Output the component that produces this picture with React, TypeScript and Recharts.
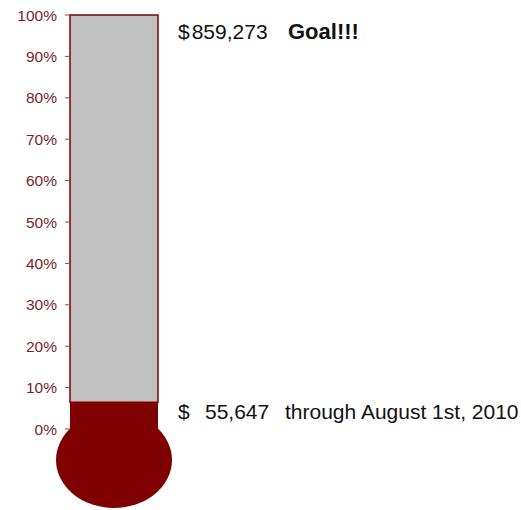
import { Bar, BarChart, LabelList, XAxis, YAxis } from 'recharts';

const categories = ['Campaign'];
const raised = [55647];
const goal = [859273];
const yTicks = [0, 10, 20, 30, 40, 50, 60, 70, 80, 90, 100];
const goalNote = 'Goal!!!';
const raisedNote = 'through August 1st, 2010';

const MAROON = '#7F0000';
const TICK_TEXT = '#7A1F2A';
const FONT = '"Liberation Sans", Arial, Helvetica, sans-serif';

const fmt = (n: number) => n.toLocaleString('en-US');

const data = categories.map((name, i) => {
  const pct = (raised[i] / goal[i]) * 100;
  return { name, pct, rest: 100 - pct, raised: raised[i], goal: goal[i] };
});

// red column plus the bulb hanging below the 0% line
function MercuryShape(props: any) {
  const { x, y, width, height } = props;
  const cx = x + width / 2;
  return (
    <g>
      <ellipse cx={cx} cy={y + height + 31} rx={58} ry={48} fill={MAROON} />
      <rect x={x} y={y} width={width} height={height + 4} fill={MAROON} />
    </g>
  );
}

function GoalLabel(props: any) {
  const { x, y, width } = props;
  const tx = x + width + 20;
  return (
    <text x={tx} y={y + 24} fontFamily={FONT} fontSize={21} fill="#111">
      <tspan>$</tspan>
      <tspan dx={2}>{fmt(goal[0])}</tspan>
      <tspan x={tx + 110} fontWeight="bold" fontSize={22}>
        {goalNote}
      </tspan>
    </text>
  );
}

function RaisedLabel(props: any) {
  const { x, y, width } = props;
  const tx = x + width + 20;
  return (
    <text x={tx} y={y + 17} fontFamily={FONT} fontSize={21} fill="#111">
      <tspan>$</tspan>
      <tspan x={tx + 27}>{fmt(raised[0])}</tspan>
      <tspan x={tx + 107}>{raisedNote}</tspan>
    </text>
  );
}

export default function App() {
  return (
    <div style={{ position: 'absolute', left: 0, top: 0, background: '#fff' }}>
      <BarChart
        width={521}
        height={510}
        data={data}
        margin={{ top: 15, right: 363, bottom: 81, left: 0 }}
        barCategoryGap={0}
      >
        <XAxis dataKey="name" hide />
        <YAxis
          width={70}
          domain={[0, 100]}
          ticks={yTicks}
          interval={0}
          tickFormatter={(v: number) => `${v}%`}
          axisLine={false}
          tickLine={{ stroke: '#8A4A4A' }}
          tickSize={5}
          tickMargin={8}
          tick={{ fontSize: 15.5, fill: TICK_TEXT, fontFamily: FONT }}
        />
        <Bar
          dataKey="pct"
          stackId="t"
          shape={MercuryShape}
          isAnimationActive={false}
        >
          <LabelList dataKey="raised" content={RaisedLabel} />
        </Bar>
        <Bar
          dataKey="rest"
          stackId="t"
          fill="#C0C0C0"
          stroke={MAROON}
          strokeWidth={1.5}
          isAnimationActive={false}
        >
          <LabelList dataKey="goal" content={GoalLabel} />
        </Bar>
      </BarChart>
    </div>
  );
}
